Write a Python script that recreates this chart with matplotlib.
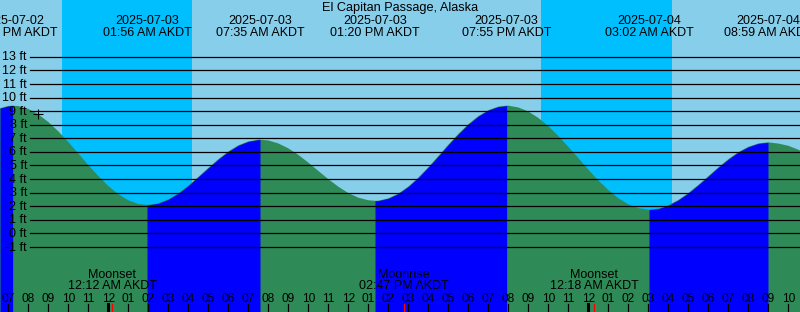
import matplotlib
matplotlib.use('Agg')
import matplotlib.pyplot as plt
from matplotlib.transforms import blended_transform_factory, offset_copy
from datetime import datetime, timedelta
import numpy as np

plt.rcParams['font.family'] = ['Liberation Sans', 'DejaVu Sans']

# ---------------- data ----------------
title = "El Capitan Passage, Alaska"
tz = "AKDT"
view_start = "2025-07-02 18:35"
view_end = "2025-07-04 10:35"

extreme_times = ["2025-07-02 19:13", "2025-07-03 01:56", "2025-07-03 07:35",
                 "2025-07-03 13:20", "2025-07-03 19:55", "2025-07-04 03:02",
                 "2025-07-04 08:59"]
extreme_heights = [9.4, 2.1, 6.9, 2.4, 9.4, 1.75, 6.7]
extreme_kinds = ["high", "low", "high", "low", "high", "low", "high"]

# heights at each full hour, starting 2025-07-02 19:00
hourly_start = "2025-07-02 19:00"
hourly_heights = [9.38, 9.16, 8.20, 6.72, 5.03, 3.49, 2.44, 2.10, 2.51, 3.52,
                  4.82, 6.03, 6.77, 6.84, 6.26, 5.21, 3.99, 2.97, 2.44, 2.58,
                  3.45, 4.87, 6.53, 8.04, 9.07, 9.40, 8.97, 7.89, 6.37, 4.70,
                  3.19, 2.14, 1.75, 2.07, 2.97, 4.21, 5.46, 6.37, 6.70, 6.45]
# heights at each half hour, starting 2025-07-02 19:30
half_hour_heights = [9.37, 8.76, 7.51, 5.88, 4.22, 2.89, 2.17, 2.22, 2.95, 4.16,
                     5.46, 6.48, 6.90, 6.62, 5.78, 4.60, 3.44, 2.63, 2.41, 2.93,
                     4.11, 5.69, 7.32, 8.63, 9.33, 9.27, 8.50, 7.17, 5.54, 3.90,
                     2.59, 1.86, 1.82, 2.46, 3.57, 4.86, 5.98, 6.62, 6.61, 6.16]
edge_heights = [9.21, 6.10]  # at view_start, view_end

night_starts = ["2025-07-02 21:41", "2025-07-03 21:38"]
night_ends = ["2025-07-03 04:11", "2025-07-04 04:11"]

moon_labels = ["Moonset", "Moonrise", "Moonset"]
moon_times = ["2025-07-03 00:12", "2025-07-03 14:47", "2025-07-04 00:18"]

now_time = "2025-07-02 20:28"
now_height = 8.79

ft_levels = list(range(-1, 14))

# ---------------- helpers ----------------
fmt = "%Y-%m-%d %H:%M"
T0 = datetime.strptime(hourly_start, fmt)


def th(s):
    d = datetime.strptime(s, fmt) if isinstance(s, str) else s
    return (d - T0).total_seconds() / 3600.0


W, H = 800, 312
fig = plt.figure(figsize=(W / 100, H / 100), dpi=100)
ax = fig.add_axes([0, 0, 1, 1])
x0, x1 = th(view_start), th(view_end)
px_per_ft = 13.59
zero_px = 233.4
y_lo = (zero_px - H) / px_per_ft
y_hi = zero_px / px_per_ft
ax.set_xlim(x0, x1)
ax.set_ylim(y_lo, y_hi)
ax.axis('off')

DAY = '#87CEEB'
NIGHT = '#00BFFF'
RISE = '#0000FF'
FALL = '#2E8B57'

ax.axvspan(x0, x1, color=DAY, lw=0, zorder=0)
for s, e in zip(night_starts, night_ends):
    ax.axvspan(th(s), th(e), color=NIGHT, lw=0, zorder=0.5)

# curve
ts = [th(view_start)] + [float(i) for i in range(len(hourly_heights))] + \
     [i + 0.5 for i in range(len(half_hour_heights))] + \
     [th(t) for t in extreme_times] + [th(view_end)]
hs = [edge_heights[0]] + hourly_heights + half_hour_heights + \
     extreme_heights + [edge_heights[1]]
order = np.argsort(ts)
ts = np.array(ts)[order]
hs = np.array(hs)[order]

ax.fill_between(ts, y_lo, hs, color=FALL, lw=0, zorder=1)
bounds = [x0] + [th(t) for t in extreme_times] + [x1]
kinds_next = extreme_kinds + ["low"]
for i in range(len(bounds) - 1):
    if kinds_next[i] == "high":  # rising toward a high
        m = (ts >= bounds[i] - 1e-9) & (ts <= bounds[i + 1] + 1e-9)
        ax.fill_between(ts[m], y_lo, hs[m], color=RISE, lw=0, zorder=1.5)

# horizontal ft lines + labels
lab_tr = offset_copy(blended_transform_factory(fig.transFigure, ax.transData),
                     fig=fig, x=0, y=-3.6, units='dots')
for lv in ft_levels:
    ax.axhline(lv, xmin=29.5 / W, xmax=1, color='black', lw=0.9, zorder=3)
    ax.text(27 / W, lv, f"{lv} ft", transform=lab_tr, ha='right',
            va='baseline', fontsize=9, color='black', zorder=4)

# top labels
tt = blended_transform_factory(ax.transData, fig.transFigure)
fig.text(0.5, 1 - 11.5 / H, title, ha='center', va='baseline', fontsize=9.2)
for t, k in zip(extreme_times, extreme_kinds):
    d = datetime.strptime(t, fmt)
    ax.text(th(t), 1 - 24 / H, d.strftime("%Y-%m-%d"), transform=tt,
            ha='center', va='baseline', fontsize=9, zorder=5)
    ax.text(th(t), 1 - 36 / H, d.strftime("%I:%M %p ") + tz, transform=tt,
            ha='center', va='baseline', fontsize=9, zorder=5)

# moon labels
for lab, t in zip(moon_labels, moon_times):
    d = datetime.strptime(t, fmt)
    ax.text(th(t), 1 - 277.5 / H, lab, transform=tt, ha='center',
            va='baseline', fontsize=9, zorder=5)
    ax.text(th(t), 1 - 289 / H, d.strftime("%I:%M %p ") + tz, transform=tt,
            ha='center', va='baseline', fontsize=9, zorder=5)

# hour ticks and labels
tick_h = 8 / H
for i in range(int(np.floor(x0)), int(np.ceil(x1)) + 1):
    d = T0 + timedelta(hours=i)
    if d.hour == 0:
        ax.axvline(i, ymin=0, ymax=tick_h, color='black', lw=2.2, zorder=5)
    else:
        ax.axvline(i, ymin=0, ymax=tick_h, color='black', lw=0.9, zorder=5)
    ax.text(i, 1 - 302 / H, d.strftime("%I"), transform=tt, ha='center',
            va='baseline', fontsize=8.6, zorder=5)
for t in moon_times:
    ax.axvline(th(t), ymin=0, ymax=tick_h, color='red', lw=0.9, zorder=6)

# current time marker
ax.plot([th(now_time)], [now_height], marker='+', color='black',
        markersize=7, mew=0.8, zorder=6)

fig.savefig('out.png', dpi=100)
